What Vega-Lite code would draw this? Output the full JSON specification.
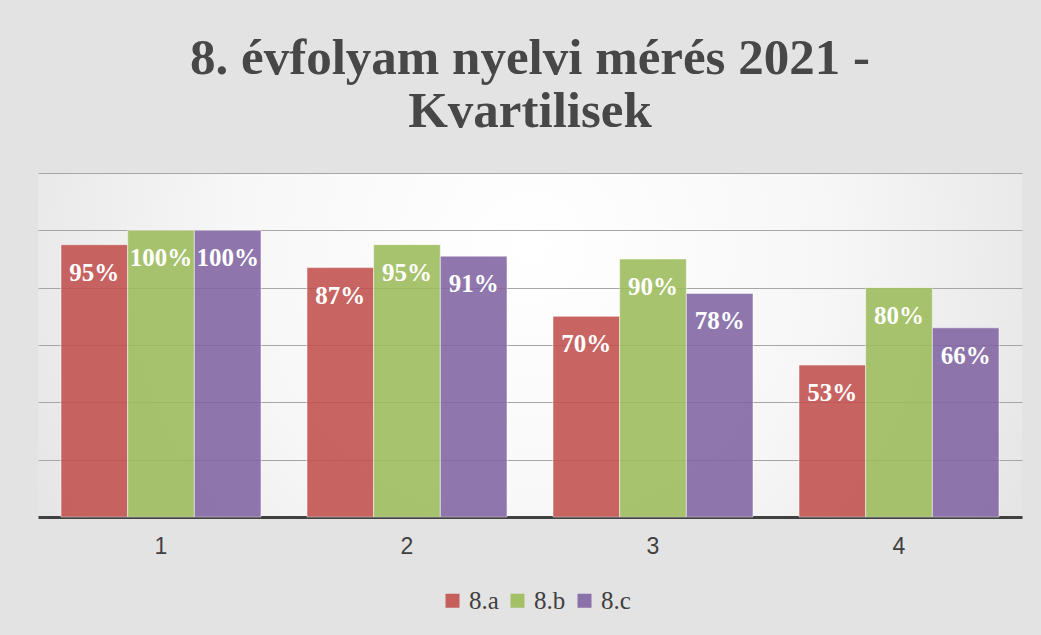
{
  "$schema": "https://vega.github.io/schema/vega-lite/v6.json",
  "width": 984,
  "height": 344,
  "autosize": {"type": "none"},
  "padding": {"left": 38, "top": 173, "right": 19, "bottom": 118},
  "background": "#e3e3e3",
  "title": {
    "text": ["8. évfolyam nyelvi mérés 2021 -", "Kvartilisek"],
    "font": "Liberation Serif",
    "fontSize": 51,
    "fontWeight": "bold",
    "color": "#474747",
    "lineHeight": 53,
    "anchor": "middle",
    "frame": "group",
    "offset": 35
  },
  "data": {
    "values": [
      {"kvartilis": "1", "osztaly": "8.a", "ertek": 0.95},
      {"kvartilis": "1", "osztaly": "8.b", "ertek": 1.0},
      {"kvartilis": "1", "osztaly": "8.c", "ertek": 1.0},
      {"kvartilis": "2", "osztaly": "8.a", "ertek": 0.87},
      {"kvartilis": "2", "osztaly": "8.b", "ertek": 0.95},
      {"kvartilis": "2", "osztaly": "8.c", "ertek": 0.91},
      {"kvartilis": "3", "osztaly": "8.a", "ertek": 0.70},
      {"kvartilis": "3", "osztaly": "8.b", "ertek": 0.90},
      {"kvartilis": "3", "osztaly": "8.c", "ertek": 0.78},
      {"kvartilis": "4", "osztaly": "8.a", "ertek": 0.53},
      {"kvartilis": "4", "osztaly": "8.b", "ertek": 0.80},
      {"kvartilis": "4", "osztaly": "8.c", "ertek": 0.66}
    ]
  },
  "encoding": {
    "x": {
      "field": "kvartilis",
      "type": "nominal",
      "scale": {"paddingInner": 0.187, "paddingOuter": 0.0935},
      "axis": {
        "title": null,
        "labelAngle": 0,
        "ticks": false,
        "grid": false,
        "domainColor": "#404040",
        "domainWidth": 3,
        "labelFont": "Liberation Sans",
        "labelFontSize": 23,
        "labelColor": "#404040",
        "labelPadding": 18
      }
    },
    "xOffset": {
      "field": "osztaly",
      "type": "nominal",
      "scale": {"paddingInner": 0, "paddingOuter": 0}
    },
    "y": {
      "field": "ertek",
      "type": "quantitative",
      "scale": {"domain": [0, 1.2]},
      "axis": {
        "values": [0.2, 0.4, 0.6, 0.8, 1.0, 1.2],
        "grid": true,
        "gridColor": "#a6a6a6",
        "gridWidth": 1,
        "labels": false,
        "ticks": false,
        "domain": false,
        "title": null
      }
    }
  },
  "layer": [
    {
      "mark": {"type": "bar", "fillOpacity": 0.88, "stroke": "#ffffff", "strokeOpacity": 0.5, "strokeWidth": 1},
      "encoding": {
        "color": {
          "field": "osztaly",
          "type": "nominal",
          "scale": {"domain": ["8.a", "8.b", "8.c"], "range": ["#C0504D", "#9BBB59", "#8064A2"]},
          "legend": {
            "title": null,
            "orient": "none",
            "legendX": 402,
            "legendY": 415,
            "padding": 0,
            "direction": "horizontal",
            "symbolType": "square",
            "symbolSize": 196,
            "symbolStrokeWidth": 0,
            "symbolOpacity": 0.9,
            "labelFont": "Liberation Serif",
            "labelFontSize": 25,
            "labelColor": "#404040",
            "labelOffset": 4,
            "columnPadding": 6
          }
        }
      }
    },
    {
      "mark": {"type": "text", "dy": 36, "baseline": "alphabetic", "align": "center", "font": "Liberation Serif", "fontWeight": "bold", "fontSize": 25, "color": "#ffffff"},
      "encoding": {
        "text": {"field": "ertek", "type": "quantitative", "format": ".0%"}
      }
    }
  ],
  "config": {
    "view": {
      "stroke": null,
      "fill": {
        "gradient": "radial",
        "x1": 0.5, "y1": 0.4, "r1": 0,
        "x2": 0.5, "y2": 0.4, "r2": 0.6,
        "stops": [
          {"offset": 0, "color": "#ffffff"},
          {"offset": 0.5, "color": "#f7f7f7"},
          {"offset": 1, "color": "#e3e3e3"}
        ]
      }
    }
  }
}
